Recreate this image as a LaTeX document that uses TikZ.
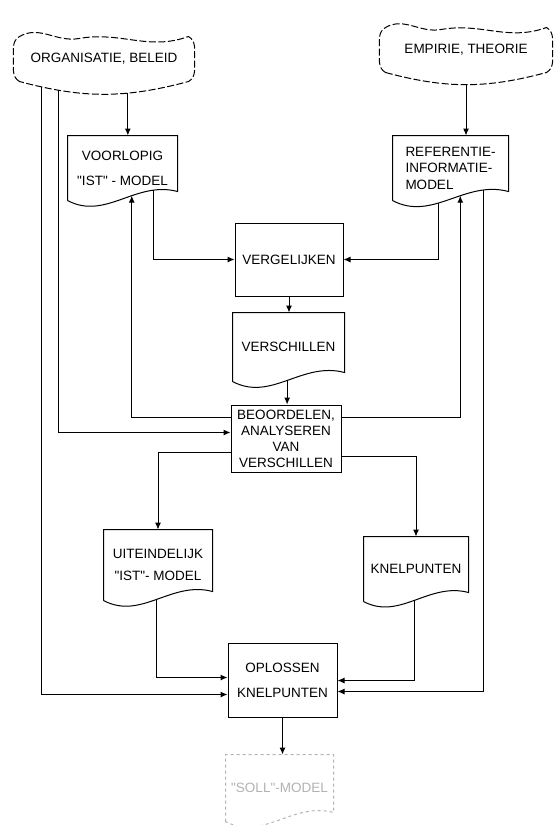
\documentclass[tikz,border=0pt]{standalone}
\usepackage{fontspec}
\setmainfont{Liberation Sans}[Ligatures=TeXOff]
\usetikzlibrary{arrows.meta,calc}
\newcommand{\docshape}[2][]{%
  \draw[#1] (#2.south west) -- (#2.north west) -- (#2.north east) -- ([yshift=9pt]#2.south east)
    to[out=165,in=-28] coordinate[pos=.2] (#2-a) coordinate[pos=.4] (#2-b)
    coordinate[pos=.5] (#2-m) coordinate[pos=.6] (#2-c) (#2.south west);}
\newcommand{\cloudshape}[1]{%
  \draw[cloudline] (#1.south west) to[out=150,in=-90] ([xshift=-6pt]#1.west)
    to[out=90,in=-150] (#1.north west) to[out=30,in=190] ($(#1.north)+(-25pt,-2pt)$)
    to[out=10,in=200] (#1.north east) to[out=-30,in=90] ([xshift=6pt]#1.east)
    to[out=-90,in=30] (#1.south east)
    to[out=195,in=-15] coordinate[pos=.35] (#1-a) coordinate[pos=.5] (#1-m)
    coordinate[pos=.78] (#1-b) coordinate[pos=.88] (#1-c) (#1.south west);}
\begin{document}
\begin{tikzpicture}[x=1pt,y=1pt,line width=1pt,>={Latex[length=7pt,width=6pt]},
  txt/.style={font=\fontsize{13.5}{16}\selectfont,align=center,inner sep=0pt},
  procbox/.style={txt,draw},
  cloudline/.style={line width=1pt,dash pattern=on 7pt off 2.5pt}]
\useasboundingbox (0,0) rectangle (557,-825);
\node[txt,minimum width=168pt,minimum height=44pt] (org) at (104,-59) {ORGANISATIE, BELEID};
\node[txt,minimum width=160pt,minimum height=44pt] (emp) at (466,-50) {EMPIRIE, THEORIE};
\cloudshape{org}
\cloudshape{emp}
\node[txt,minimum width=109pt,minimum height=64pt] (vl) at (122.5,-168) {VOORLOPIG\\[9pt]"IST" - MODEL};
\node[txt,align=left,minimum width=115pt,minimum height=64pt] (ref) at (450.5,-168) {REFERENTIE-\\[0.5pt]INFORMATIE-\\[0.5pt]MODEL};
\docshape{vl}
\docshape{ref}
\node[procbox,minimum width=108pt,minimum height=73pt] (verg) at (289,-259.5) {VERGELIJKEN};
\node[txt,minimum width=111pt,minimum height=68pt] (vs) at (288.5,-347) {VERSCHILLEN};
\docshape{vs}
\node[procbox,minimum width=110pt,minimum height=67pt] (beo) at (286,-438.5) {BEOORDELEN,\\ANALYSEREN\\VAN\\VERSCHILLEN};
\node[txt,minimum width=108pt,minimum height=70pt] (uit) at (158,-565) {UITEINDELIJK\\[6pt]"IST"- MODEL};
\node[txt,minimum width=104pt,minimum height=64pt] (kn) at (416,-569) {KNELPUNTEN};
\docshape{uit}
\docshape{kn}
\node[procbox,minimum width=109pt,minimum height=74pt] (opl) at (282.5,-680) {OPLOSSEN\\[9pt]KNELPUNTEN};
\node[txt,text=gray!60,minimum width=107pt,minimum height=66pt] (fin) at (279.5,-788) {"SOLL"-MODEL};
\docshape[gray!60,dashed]{fin}
% verbindingen
\draw[->] (org-a) -- (org-a |- vl.north);
\draw[->] (emp-m) -- (emp-m |- ref.north);
\draw[->] (vl-a) |- (verg.west);
\draw[->] (ref-c) |- (verg.east);
\draw[->] (verg.south) -- (verg.south |- vs.north);
\draw[->] (vs-m) -- (vs-m |- beo.north);
\draw[->] ([yshift=-13pt]beo.north west) -| (vl-b);
\draw[->] ([yshift=-13pt]beo.north east) -| (ref-b);
\draw[->] (org-b) |- ([yshift=-28pt]beo.north west);
\draw[->] ([yshift=-48pt]beo.north west) -| (uit.north);
\draw[->] ([yshift=-52pt]beo.north east) -| (kn.north);
\draw[->] (uit-m) |- ([yshift=-35pt]opl.north west);
\draw[->] (org-c) |- ([yshift=-52pt]opl.north west);
\draw[->] (kn-m) |- ([yshift=-38pt]opl.north east);
\draw[->] (ref-a) |- ([yshift=-49pt]opl.north east);
\draw[->] (opl.south) -- (opl.south |- fin.north);
\end{tikzpicture}
\end{document}
